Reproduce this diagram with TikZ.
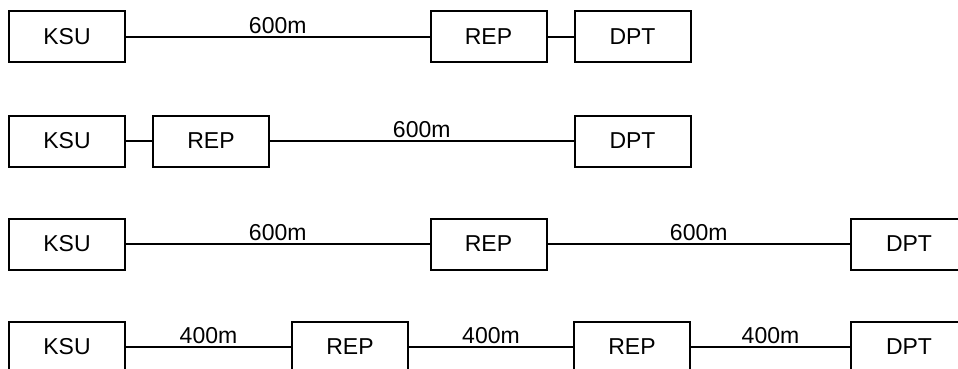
\documentclass[tikz,border=0pt]{standalone}
\usepackage{fontspec}
\setmainfont{Liberation Sans}
\begin{document}
\begin{tikzpicture}[x=1pt,y=-1pt,
  unit/.style={draw, line width=2pt, minimum width=116pt, minimum height=51pt,
    inner sep=0pt, font=\fontsize{23}{25}\selectfont},
  link/.style={line width=1.6pt},
  dist/.style={anchor=base, yshift=3.5pt, inner sep=0pt, font=\fontsize{23}{25}\selectfont}]
\useasboundingbox (0,0) rectangle (958,369);
\clip (0,0) rectangle (958,369);

% Layout 1: repeater close to the terminal
\node[unit] (k1) at (67,37) {KSU};
\node[unit] (r1) at (488.5,37) {REP};
\node[unit] (d1) at (632.5,37) {DPT};
\draw[link] (k1) -- node[dist]{600m} (r1);
\draw[link] (r1) -- (d1);

% Layout 2: repeater close to the control unit
\node[unit] (k2) at (67,141) {KSU};
\node[unit] (r2) at (211,141) {REP};
\node[unit] (d2) at (632.5,141) {DPT};
\draw[link] (k2) -- (r2);
\draw[link] (r2) -- node[dist]{600m} (d2);

% Layout 3: one repeater in the middle
\node[unit] (k3) at (67,244) {KSU};
\node[unit] (r3) at (488.5,244) {REP};
\node[unit] (d3) at (909,244) {DPT};
\draw[link] (k3) -- node[dist]{600m} (r3);
\draw[link] (r3) -- node[dist]{600m} (d3);

% Layout 4: two repeaters, three segments
\node[unit] (k4) at (67,347) {KSU};
\node[unit] (r4a) at (350,347) {REP};
\node[unit] (r4b) at (632,347) {REP};
\node[unit] (d4) at (909,347) {DPT};
\draw[link] (k4) -- node[dist]{400m} (r4a);
\draw[link] (r4a) -- node[dist]{400m} (r4b);
\draw[link] (r4b) -- node[dist]{400m} (d4);
\end{tikzpicture}
\end{document}
